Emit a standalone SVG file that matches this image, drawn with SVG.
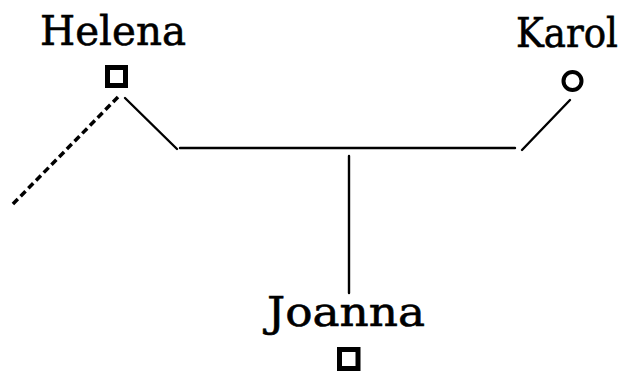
<svg xmlns="http://www.w3.org/2000/svg" width="627" height="378" viewBox="0 0 627 378">
<style>
text{font-family:"DejaVu Serif","Liberation Serif",serif;font-size:41px;fill:#000;stroke:#000;stroke-width:0.6}
.ln{stroke:#000;stroke-width:2.4;fill:none;stroke-linecap:round}
.dash{stroke:#000;stroke-width:3.5;fill:none;stroke-dasharray:7 4}
.sq{fill:#fff;stroke:#000;stroke-width:5}
</style>
<rect width="627" height="378" fill="#fff"/>
<g id="connectors">
<line class="dash" x1="118" y1="97" x2="11" y2="206"/>
<line class="ln" x1="125" y1="98" x2="177" y2="149"/>
<line class="ln" x1="180" y1="148" x2="515" y2="148"/>
<line class="ln" x1="522" y1="150" x2="570" y2="100"/>
<line class="ln" x1="349" y1="156" x2="349" y2="293"/>
</g>
<g id="helena">
<text x="40" y="45" textLength="146" lengthAdjust="spacingAndGlyphs">Helena</text>
<rect class="sq" x="107.5" y="67.5" width="18" height="18"/>
</g>
<g id="karol">
<text x="516" y="47" textLength="102" lengthAdjust="spacingAndGlyphs">Karol</text>
<circle cx="572.5" cy="81" r="9" fill="#fff" stroke="#000" stroke-width="4"/>
</g>
<g id="joanna">
<text x="267" y="326" textLength="158" lengthAdjust="spacingAndGlyphs">Joanna</text>
<rect class="sq" x="339.5" y="349.5" width="18.5" height="19"/>
</g>
</svg>
